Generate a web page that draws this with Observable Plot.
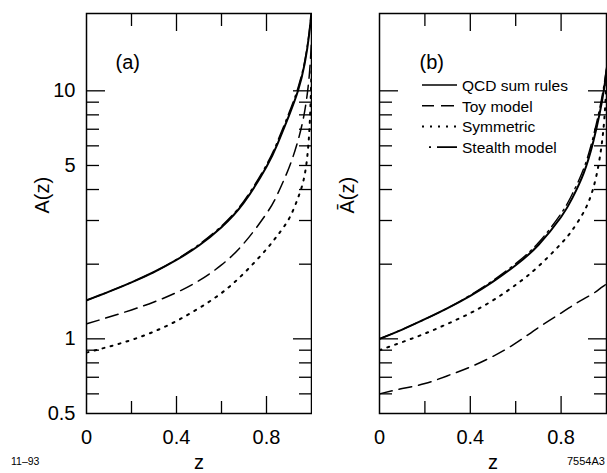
<!DOCTYPE html>
<html><head><meta charset="utf-8">
<script src="https://cdn.jsdelivr.net/npm/d3@7"></script>
<script src="https://cdn.jsdelivr.net/npm/@observablehq/plot@0.6"></script>
<style>
body{margin:0;background:#fff;}
#wrap{position:relative;width:607px;height:473px;font-family:"Liberation Sans",Arial,Helvetica,sans-serif;background:#fff;}
#wrap > svg{position:absolute;top:0;background:transparent !important;}
.note{position:absolute;font-size:10.5px;color:#000;}
</style></head><body><div id="wrap"></div>
<script>
// z grid
const z = [0, 0.1, 0.2, 0.3, 0.4, 0.5, 0.6, 0.7, 0.8, 0.85, 0.9, 0.94, 0.97, 0.99, 1.0];

// Panel (a): A(z)
const qcdA     = [1.43, 1.55, 1.69, 1.86, 2.08, 2.38, 2.82, 3.55, 4.94, 6.14, 7.95, 10.0, 12.9, 17.0, 21.0];
const stealthA = [1.43, 1.55, 1.69, 1.86, 2.09, 2.40, 2.85, 3.60, 5.04, 6.29, 8.15, 10.3, 13.2, 17.3, 21.0];
const toyA     = [1.15, 1.224, 1.308, 1.408, 1.537, 1.717, 1.986, 2.431, 3.20, 3.85, 4.9, 6.3, 8.3, 11.5, 16.0];
const symA     = [0.88, 0.93, 0.99, 1.07, 1.18, 1.33, 1.53, 1.84, 2.30, 2.62, 3.05, 3.7, 4.6, 6.8, 12.0];

// Panel (b): A-bar(z)
const qcdB     = [1.0, 1.09, 1.20, 1.33, 1.49, 1.70, 1.98, 2.39, 3.10, 3.70, 4.67, 6.15, 8.11, 10.3, 12.1];
const stealthB = [1.0, 1.09, 1.20, 1.33, 1.50, 1.72, 2.01, 2.44, 3.20, 3.85, 4.87, 6.45, 8.5, 10.7, 12.4];
const toyB     = [0.60, 0.63, 0.66, 0.71, 0.77, 0.85, 0.96, 1.11, 1.27, 1.36, 1.45, 1.52, 1.59, 1.64, 1.67];
const symB     = [0.90, 0.97, 1.05, 1.15, 1.27, 1.43, 1.65, 1.96, 2.42, 2.75, 3.25, 4.0, 5.35, 7.6, 11.0];

// axes
const yDomain = [0.5, 20.5];
const xLabelTicks = [0, 0.4, 0.8];
const xMajor = [0.4, 0.8];
const xMinor = [0.2, 0.6];
const yLabelTicks = [0.5, 1, 5, 10];
const yMajor = [1, 10];
const yMinor = [0.6, 0.7, 0.8, 0.9, 2, 3, 4, 5, 6, 7, 8, 9];

const seriesNames = ["QCD sum rules", "Toy model", "Symmetric", "Stealth model"];
const styles = {
  "QCD sum rules": {strokeWidth: 2, strokeDasharray: null},
  "Toy model": {strokeWidth: 1.5, strokeDasharray: "13,7"},
  "Symmetric": {strokeWidth: 2, strokeDasharray: "2,6.3"},
  "Stealth model": {strokeWidth: 1.4, strokeDasharray: "14,5,2,5"}
};
const legendDash = {
  "QCD sum rules": null,
  "Toy model": "12,7,13",
  "Symmetric": "2,6",
  "Stealth model": "2,6,30"
};

function rows(values) {
  return z.map((zz, i) => ({z: zz, v: values[i]}));
}

function panel({series, left, width, marginLeft, tag, tagDx, yLabel, yLabelDx, showYLabels}) {
  const fmt = d => String(d);
  const blank = () => "";
  const marks = [];
  for (const name of seriesNames) {
    if (!series[name]) continue;
    const s = styles[name];
    marks.push(Plot.line(rows(series[name]), {x: "z", y: "v", curve: "natural", stroke: "black",
      strokeWidth: s.strokeWidth, strokeDasharray: s.strokeDasharray, clip: true}));
  }
  marks.push(
    Plot.frame({stroke: "black", strokeWidth: 1.5}),
    Plot.axisX({anchor: "bottom", ticks: xLabelTicks, tickSize: 0, tickPadding: 16, tickFormat: fmt, fontSize: 20, label: null}),
    Plot.axisX({anchor: "bottom", ticks: xMajor, tickSize: -17, tickFormat: blank, label: null, strokeWidth: 1.3}),
    Plot.axisX({anchor: "bottom", ticks: xMinor, tickSize: -12, tickFormat: blank, label: null, strokeWidth: 1.3}),
    Plot.axisX({anchor: "top", ticks: xMajor, tickSize: -17, tickFormat: blank, label: null, strokeWidth: 1.3}),
    Plot.axisX({anchor: "top", ticks: xMinor, tickSize: -12, tickFormat: blank, label: null, strokeWidth: 1.3}),
    Plot.axisY({anchor: "left", ticks: yMajor, tickSize: -19, tickFormat: blank, label: null, strokeWidth: 1.3}),
    Plot.axisY({anchor: "left", ticks: yMinor, tickSize: -13, tickFormat: blank, label: null, strokeWidth: 1.3}),
    Plot.axisY({anchor: "right", ticks: yMajor, tickSize: -19, tickFormat: blank, label: null, strokeWidth: 1.3}),
    Plot.axisY({anchor: "right", ticks: yMinor, tickSize: -13, tickFormat: blank, label: null, strokeWidth: 1.3}),
    Plot.text(["z"], {frameAnchor: "bottom", dy: 55, fontSize: 20}),
    Plot.text([yLabel], {frameAnchor: "left", dx: yLabelDx, rotate: -90, fontSize: 20}),
    Plot.text([tag], {frameAnchor: "top-left", dx: tagDx, dy: 41, textAnchor: "start", fontSize: 20})
  );
  if (showYLabels) {
    marks.push(Plot.axisY({anchor: "left", ticks: yLabelTicks, tickSize: 0, tickPadding: 11, tickFormat: fmt, fontSize: 20, label: null}));
  }
  const svg = Plot.plot({
    width, height: 473,
    marginLeft, marginRight: 1, marginTop: 13, marginBottom: 60,
    style: {fontFamily: '"Liberation Sans", Arial, Helvetica, sans-serif', background: "transparent", color: "black"},
    x: {domain: [0, 1]},
    y: {type: "log", domain: yDomain},
    marks
  });
  svg.style.left = left + "px";
  return svg;
}

const wrap = document.getElementById("wrap");
const svgA = panel({
  series: {"QCD sum rules": qcdA, "Toy model": toyA, "Symmetric": symA, "Stealth model": stealthA},
  left: 0, width: 312, marginLeft: 86, tag: "(a)", tagDx: 29, yLabel: "A(z)", yLabelDx: -44, showYLabels: true
});
const svgB = panel({
  series: {"QCD sum rules": qcdB, "Toy model": toyB, "Symmetric": symB, "Stealth model": stealthB},
  left: 312, width: 295, marginLeft: 67, tag: "(b)", tagDx: 40, yLabel: "\u0100(z)", yLabelDx: -32, showYLabels: false
});
wrap.appendChild(svgA);
wrap.appendChild(svgB);

// legend inside panel (b)
const lg = d3.select(svgB).append("g")
  .attr("font-family", '"Liberation Sans", Arial, sans-serif')
  .attr("font-size", 15.5)
  .attr("text-anchor", "start");
seriesNames.forEach((name, i) => {
  const y = 85 + i * 20.7;
  const dash = legendDash[name];
  const x1 = name === "Stealth model" ? 117 : 110;
  lg.append("line").attr("x1", x1).attr("x2", 145).attr("y1", y).attr("y2", y)
    .attr("stroke", "black").attr("stroke-width", name === "Symmetric" ? 2 : 1.6)
    .attr("stroke-dasharray", dash);
  lg.append("text").attr("x", 150).attr("y", y + 5.8).attr("fill", "black").attr("text-anchor", "start").text(name);
});

const n1 = document.createElement("div");
n1.className = "note"; n1.style.left = "11px"; n1.style.top = "455px"; n1.textContent = "11\u201393";
const n2 = document.createElement("div");
n2.className = "note"; n2.style.left = "567px"; n2.style.top = "455px"; n2.style.fontSize = "11px"; n2.textContent = "7554A3";
wrap.appendChild(n1); wrap.appendChild(n2);
</script>
</body></html>
